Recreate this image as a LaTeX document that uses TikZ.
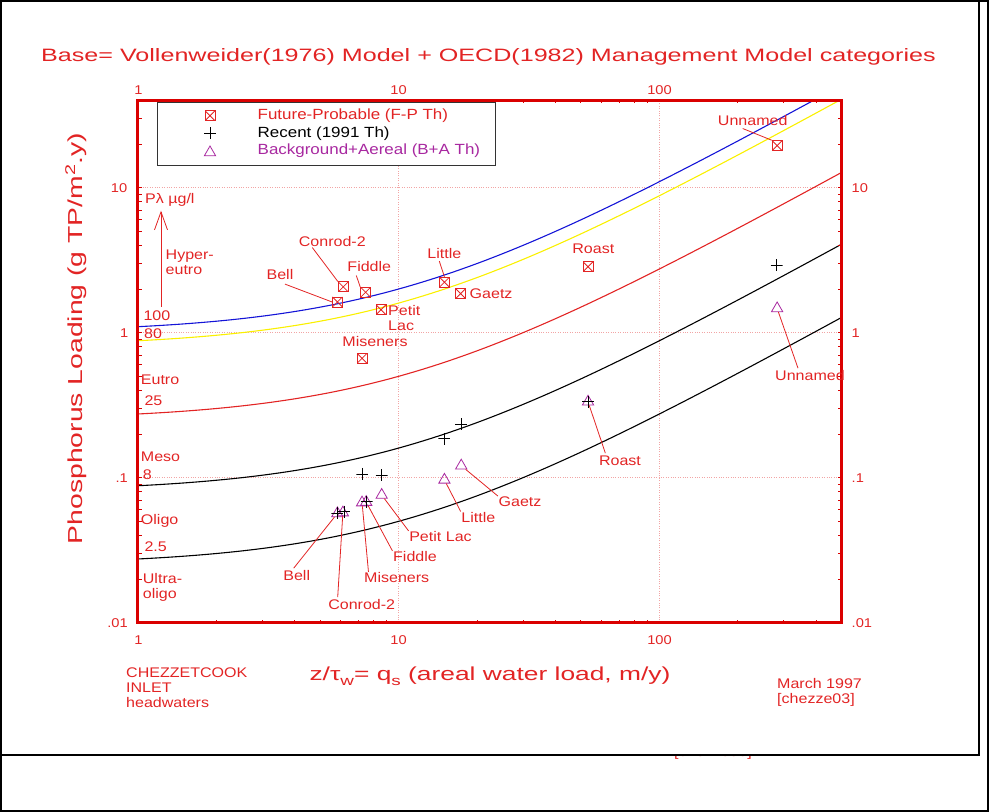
\documentclass[tikz,border=0pt]{standalone}
\usepackage{fontspec}
\setmainfont{Liberation Sans}
\newfontfamily\plotfont[FakeStretch=1.15]{Liberation Sans}
\newfontfamily\bigplotfont[FakeStretch=1.4]{Liberation Sans}
\usepackage{tikz}
\usetikzlibrary{positioning,
				shapes.geometric,
				arrows.meta}

\definecolor{plotred}{RGB}{226,36,36}
\definecolor{framered}{RGB}{218,0,0}
\definecolor{gridpink}{RGB}{242,165,165}
\definecolor{bgpurple}{RGB}{168,40,160}
\definecolor{curveblue}{RGB}{20,20,215}
\definecolor{curveyellow}{RGB}{250,240,0}

\newcommand{\lowsub}[1]{\raisebox{-.5ex}{\fontsize{13.5}{13.5}\selectfont #1}}

\tikzset{
	declare function={lx(\q)=log10(\q); ly(\l)=log10(\l)+2;},
	page/.style={draw=black, line width=1.6bp},
	frame/.style={draw=framered, line width=2.6bp},
	gridline/.style={draw=gridpink, line width=.8bp, dash pattern=on .9bp off 1.5bp},
	tick/.style={draw=framered, line width=.8bp},
	lbl/.style={text=plotred, font=\plotfont\fontsize{14}{15}\selectfont, inner sep=.5bp, align=left},
	keylbl/.style={lbl, font=\plotfont\fontsize{14.8}{15}\selectfont},
	ticklbl/.style={text=plotred, font=\plotfont\fontsize{12.8}{13}\selectfont, inner sep=.5bp},
	bigtxt/.style={text=plotred, font=\bigplotfont\fontsize{18}{20}\selectfont, inner sep=0pt},
	leader/.style={draw=plotred, line width=.8bp},
	legendbox/.style={draw=black!80, fill=white, line width=1.1bp},
	fpmark/.style={draw=plotred, rectangle, minimum size=10bp, inner sep=0pt, line width=.8bp,
		path picture={\draw[plotred, line width=.8bp]
			(path picture bounding box.south west) -- (path picture bounding box.north east)
			(path picture bounding box.north west) -- (path picture bounding box.south east);}},
	recmark/.style={rectangle, minimum size=12bp, inner sep=0pt,
		path picture={\draw[black, line width=.8bp]
			(path picture bounding box.north) -- (path picture bounding box.south)
			(path picture bounding box.west) -- (path picture bounding box.east);}},
	bamark/.style={draw=bgpurple, regular polygon, regular polygon sides=3, minimum size=13bp,
		inner sep=0pt, line width=.8bp},
	catarrow/.style={draw=plotred, line width=.8bp, -{Straight Barb[length=18bp,width=13bp]}}
}

\begin{document}
\begin{tikzpicture}[x=1bp,y=-1bp]
	\useasboundingbox (0,0) rectangle (989,812);
	\draw[page] (1,1) rectangle (988,811);
	\draw[page] (1,1) rectangle (979,755);
	\begin{scope}
		\clip (600,756.5) rectangle (800,770);
		\node[lbl, anchor=south west, inner sep=0pt] (hiddenCode) at (674,760) {[chezze03]};
	\end{scope}
	\node[bigtxt] (title) at (488.5,57) {Base= Vollenweider(1976) Model + OECD(1982) Management Model categories};

	% log-log plot: x = log10(qs), y = log10(L)+2
	\begin{scope}[shift={(137.7,622.7)}, x=260.8bp, y=145bp]
		\foreach \gx in {1,2} \draw[gridline] (\gx,0) -- (\gx,{ly(40)});
		\foreach \gy in {1,2,3} \draw[gridline] (0,\gy) -- ({lx(500)},\gy);
		\begin{scope}
			\clip (0,0) rectangle ({lx(500)},{ly(40)});
			\foreach \pval/\col in {100/curveblue, 80/curveyellow, 25/plotred, 8/black, 2.5/black}
				\draw[\col, line width=1.1bp] plot[domain=0:2.699, samples=90] (\x,{log10(\pval)+log10(10+10^\x)-1});
		\end{scope}
		\foreach \ee in {0,1,2} \foreach \kk in {2,...,9} {
			\pgfmathsetmacro\tku{\ee+log10(\kk)}
			\ifdim\tku pt<2.69pt
				\draw[tick] (\tku,0) -- ++(0,3bp) (\tku,{ly(40)}) -- ++(0,-3bp);
			\fi}
		\foreach \ee in {0,1,2,3} \foreach \kk in {1,...,9} {
			\pgfmathsetmacro\tkv{\ee+log10(\kk)}
			\ifdim\tkv pt<3.6pt
				\draw[tick] (0,\tkv) -- ++(4bp,0) ({lx(500)},\tkv) -- ++(-4bp,0);
			\fi}
		\draw[frame] (0,0) rectangle ({lx(500)},{ly(40)});

		\node[bamark] (baBell) at ({lx(5.83)},{ly(.0567)}) {};
		\node[bamark] (baConrod) at ({lx(6.12)},{ly(.0574)}) {};
		\node[bamark] (baMiseners) at ({lx(7.25)},{ly(.0659)}) {};
		\node[bamark] (baFiddle) at ({lx(7.52)},{ly(.0665)}) {};
		\node[bamark] (baPetit) at ({lx(8.62)},{ly(.0751)}) {};
		\node[bamark] (baLittle) at ({lx(15)},{ly(.0964)}) {};
		\node[bamark] (baGaetz) at ({lx(17.4)},{ly(.121)}) {};
		\node[bamark] (baRoast) at ({lx(53.3)},{ly(.334)}) {};
		\node[bamark] (baUnnamed) at ({lx(283)},{ly(1.47)}) {};

		\node[recmark] (recBell) at ({lx(5.83)},{ly(.0568)}) {};
		\node[recmark] (recConrod) at ({lx(6.18)},{ly(.0583)}) {};
		\node[recmark] (recFiddle) at ({lx(7.55)},{ly(.067)}) {};
		\node[recmark] (recMiseners) at ({lx(7.27)},{ly(.106)}) {};
		\node[recmark] (recPetit) at ({lx(8.62)},{ly(.104)}) {};
		\node[recmark] (recLittle) at ({lx(15)},{ly(.185)}) {};
		\node[recmark] (recGaetz) at ({lx(17.4)},{ly(.234)}) {};
		\node[recmark] (recRoast) at ({lx(53.3)},{ly(.334)}) {};
		\node[recmark] (recUnnamed) at ({lx(282)},{ly(2.93)}) {};

		\node[fpmark] (fpBell) at ({lx(5.83)},{ly(1.63)}) {};
		\node[fpmark] (fpConrod) at ({lx(6.14)},{ly(2.07)}) {};
		\node[fpmark] (fpFiddle) at ({lx(7.48)},{ly(1.90)}) {};
		\node[fpmark] (fpPetit) at ({lx(8.57)},{ly(1.44)}) {};
		\node[fpmark] (fpLittle) at ({lx(15)},{ly(2.23)}) {};
		\node[fpmark] (fpGaetz) at ({lx(17.3)},{ly(1.86)}) {};
		\node[fpmark] (fpMiseners) at ({lx(7.25)},{ly(.666)}) {};
		\node[fpmark] (fpRoast) at ({lx(53.3)},{ly(2.85)}) {};
		\node[fpmark] (fpUnnamed) at ({lx(283)},{ly(19.5)}) {};
	\end{scope}

	\node[legendbox, anchor=north west, minimum width=337.7bp, minimum height=63.3bp] (legend) at (157.3,101.7) {};
	\node[fpmark] (keyFP) at (210,115.7) {};
	\node[recmark] (keyRec) at (210,133.3) {};
	\node[bamark] (keyBA) at (210,152.5) {};
	\node[keylbl, anchor=west] (keyFPtext) at (257,115.7) {Future-Probable (F-P Th)};
	\node[keylbl, anchor=west, text=black] (keyRectext) at (257,133.3) {Recent (1991 Th)};
	\node[keylbl, anchor=west, text=bgpurple] (keyBAtext) at (257,151) {Background+Aereal (B+A Th)};

	\node[ticklbl] (bx1) at (138.5,640) {1};
	\node[ticklbl] (bx10) at (398.5,640) {10};
	\node[ticklbl] (bx100) at (659.5,640) {100};
	\node[ticklbl] (tx1) at (138.5,90) {1};
	\node[ticklbl] (tx10) at (398.5,90) {10};
	\node[ticklbl] (tx100) at (659.5,90) {100};
	\node[ticklbl, anchor=east] (ly001) at (128.5,622.7) {.01};
	\node[ticklbl, anchor=east] (ly01) at (128.5,478) {.1};
	\node[ticklbl, anchor=east] (ly1) at (129,333.3) {1};
	\node[ticklbl, anchor=east] (ly10) at (128,188.3) {10};
	\node[ticklbl, anchor=west] (ry001) at (851,622.7) {.01};
	\node[ticklbl, anchor=west] (ry01) at (851,478) {.1};
	\node[ticklbl, anchor=west] (ry1) at (851,333.3) {1};
	\node[ticklbl, anchor=west] (ry10) at (851,188.3) {10};

	\node[bigtxt, rotate=90, font=\bigplotfont\fontsize{20.3}{22}\selectfont] (ylab) at (76,338.5) {Phosphorus Loading (g TP/m\textsuperscript{2}.y)};
	\node[bigtxt, font=\bigplotfont\fontsize{18.9}{20}\selectfont] (xlab) at (490,676) {z/τ\lowsub{w}= q\lowsub{s} (areal water load, m/y)};
	\node[lbl, anchor=west] (site) at (125.5,688) {CHEZZETCOOK\\INLET\\headwaters};
	\node[lbl, anchor=west] (stamp) at (776.5,692.5) {March 1997\\{}[chezze03]};

	\node[lbl, anchor=west] (lbPlambda) at (144.5,200) {Pλ µg/l};
	\node[lbl, anchor=west] (lbHyper) at (165,262.5) {Hyper-\\eutro};
	\node[lbl, anchor=west] (lbHundred) at (142.8,316) {100};
	\node[lbl, anchor=west] (lbEighty) at (143.5,334) {80};
	\node[lbl, anchor=west] (lbEutro) at (140.2,379.3) {Eutro};
	\node[lbl, anchor=west] (lbTwentyfive) at (143.8,400.7) {25};
	\node[lbl, anchor=west] (lbMeso) at (140.2,456.7) {Meso};
	\node[lbl, anchor=west] (lbEight) at (142.2,474.3) {8};
	\node[lbl, anchor=west] (lbOligo) at (140.2,520.7) {Oligo};
	\node[lbl, anchor=west] (lbTwofive) at (143.8,546.7) {2.5};
	\node[lbl, anchor=west] (lbUltra) at (142.2,587.5) {Ultra-\\oligo};
	\coordinate (arrFoot) at (161,306.7);
	\coordinate (arrTip) at (161,210.7);
	\draw[catarrow] (arrFoot) -- (arrTip);

	\node[lbl] (lbFPBell) at (280,274.3) {Bell};
	\node[lbl] (lbFPConrod) at (332.3,241.7) {Conrod-2};
	\node[lbl] (lbFPFiddle) at (369.3,266.7) {Fiddle};
	\node[lbl, anchor=west] (lbFPPetit) at (387.5,318) {Petit\\Lac};
	\node[lbl] (lbFPLittle) at (444.3,253.3) {Little};
	\node[lbl, anchor=west] (lbFPGaetz) at (469,293.7) {Gaetz};
	\node[lbl] (lbFPMiseners) at (375,341.7) {Miseners};
	\node[lbl] (lbFPRoast) at (593.3,249) {Roast};
	\node[lbl] (lbFPUnnamed) at (752.7,120.7) {Unnamed};
	\draw[leader] ([xshift=5bp,yshift=-4bp]lbFPBell.south) -- (fpBell.west);
	\draw[leader] ([xshift=-20bp]lbFPConrod.south) -- (fpConrod.north west);
	\draw[leader] ([xshift=-13bp,yshift=-3bp]lbFPFiddle.south) -- (fpFiddle.north west);
	\draw[leader] ([xshift=-5bp,yshift=-2bp]lbFPLittle.south) -- (fpLittle.north);
	\draw[leader] ([xshift=-10bp,yshift=-2bp]lbFPUnnamed.south) -- (fpUnnamed.north west);

	\node[lbl] (lbBABell) at (296.7,576) {Bell};
	\node[lbl] (lbBAConrod) at (361.7,605) {Conrod-2};
	\node[lbl] (lbBAMiseners) at (396.7,577.7) {Miseners};
	\node[lbl] (lbBAFiddle) at (415,556.7) {Fiddle};
	\node[lbl] (lbBAPetit) at (440.5,536.7) {Petit Lac};
	\node[lbl] (lbBALittle) at (478.3,517.3) {Little};
	\node[lbl] (lbBAGaetz) at (520,501.7) {Gaetz};
	\node[lbl] (lbBARoast) at (620,460.7) {Roast};
	\node[lbl] (lbBAUnnamed) at (810,376) {Unnamed};
	\draw[leader] ([xshift=-3bp,yshift=2bp]lbBABell.north) -- (baBell);
	\draw[leader] ([xshift=-24bp,yshift=2bp]lbBAConrod.north) -- (baConrod);
	\draw[leader] ([xshift=5bp]lbBAMiseners.north west) -- (baMiseners);
	\draw[leader] (lbBAFiddle.north west) -- (baFiddle);
	\draw[leader] (lbBAPetit.north west) -- (baPetit);
	\draw[leader] (lbBALittle.north west) -- (baLittle);
	\draw[leader] (lbBAGaetz.north west) -- (baGaetz);
	\draw[leader] ([xshift=7bp,yshift=2bp]lbBARoast.north west) -- (baRoast);
	\draw[leader] ([xshift=-12bp,yshift=2bp]lbBAUnnamed.north) -- (baUnnamed);
\end{tikzpicture}
\end{document}
